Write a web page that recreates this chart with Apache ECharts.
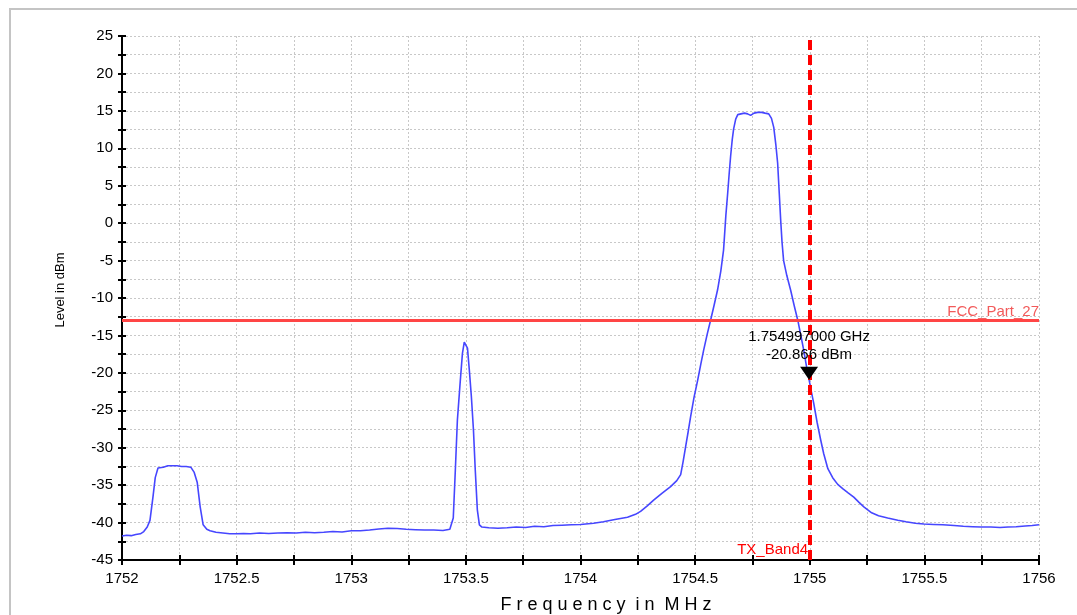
<!DOCTYPE html>
<html>
<head>
<meta charset="utf-8">
<script src="https://cdn.jsdelivr.net/npm/echarts@6/dist/echarts.min.js"></script>
<style>
html,body{margin:0;padding:0;background:#fff;}
#chart{width:1077px;height:615px;}
</style>
</head>
<body>
<div id="chart"></div>
<script>
// ---- data ----
const freqMHz = [
1752.000,1752.020,1752.040,1752.060,1752.080,1752.095,1752.110,1752.122,1752.135,1752.145,
1752.157,1752.180,1752.200,1752.220,1752.240,1752.260,1752.280,1752.300,1752.315,1752.328,
1752.341,1752.354,1752.370,1752.384,1752.410,1752.440,1752.470,1752.500,1752.530,1752.560,
1752.600,1752.640,1752.680,1752.720,1752.760,1752.800,1752.840,1752.880,1752.920,1752.960,
1753.000,1753.040,1753.080,1753.120,1753.160,1753.200,1753.240,1753.280,1753.320,1753.360,
1753.400,1753.430,1753.445,1753.454,1753.463,1753.476,1753.485,1753.493,1753.500,1753.507,
1753.515,1753.524,1753.533,1753.541,1753.550,1753.559,1753.570,1753.600,1753.640,1753.680,
1753.720,1753.760,1753.800,1753.840,1753.880,1753.920,1753.960,1754.000,1754.057,1754.100,
1754.150,1754.205,1754.240,1754.262,1754.290,1754.319,1754.355,1754.393,1754.420,1754.437,
1754.448,1754.459,1754.470,1754.480,1754.495,1754.511,1754.525,1754.537,1754.553,1754.568,
1754.584,1754.598,1754.612,1754.624,1754.634,1754.642,1754.649,1754.655,1754.662,1754.668,
1754.677,1754.686,1754.700,1754.715,1754.729,1754.742,1754.757,1754.773,1754.790,1754.805,
1754.821,1754.833,1754.843,1754.852,1754.860,1754.867,1754.873,1754.879,1754.886,1754.900,
1754.917,1754.932,1754.948,1754.961,1754.974,1754.985,1754.997,1755.007,1755.017,1755.032,
1755.048,1755.061,1755.079,1755.100,1755.122,1755.145,1755.166,1755.192,1755.215,1755.236,
1755.253,1755.270,1755.300,1755.340,1755.384,1755.420,1755.460,1755.498,1755.540,1755.580,
1755.629,1755.670,1755.710,1755.747,1755.790,1755.830,1755.865,1755.900,1755.940,1755.970,
1756.000
];
const levelDBm = [
-41.8,-41.7,-41.75,-41.6,-41.5,-41.2,-40.6,-39.7,-36.6,-34.0,
-32.7,-32.6,-32.4,-32.4,-32.4,-32.5,-32.5,-32.6,-33.3,-34.6,
-37.9,-40.3,-40.9,-41.1,-41.3,-41.4,-41.5,-41.5,-41.45,-41.5,
-41.4,-41.45,-41.4,-41.35,-41.4,-41.3,-41.35,-41.3,-41.2,-41.25,
-41.1,-41.1,-41.0,-40.85,-40.75,-40.8,-40.9,-40.95,-41.0,-41.0,
-41.05,-40.9,-39.4,-33.0,-26.3,-20.9,-17.4,-15.9,-16.1,-16.7,
-19.6,-23.2,-27.6,-33.0,-38.3,-40.3,-40.6,-40.7,-40.75,-40.7,
-40.6,-40.65,-40.5,-40.55,-40.4,-40.35,-40.3,-40.25,-40.1,-39.9,
-39.6,-39.3,-38.9,-38.5,-37.8,-37.0,-36.1,-35.2,-34.4,-33.6,
-31.8,-29.8,-27.8,-25.9,-23.3,-21.0,-18.8,-17.0,-14.8,-12.9,
-10.8,-8.9,-6.4,-3.6,1.0,4.0,6.8,9.0,11.2,12.6,
13.9,14.5,14.6,14.7,14.6,14.4,14.7,14.8,14.8,14.7,
14.6,14.0,12.8,10.5,8.0,4.0,0.5,-2.5,-5.0,-7.0,
-9.0,-11.0,-13.0,-15.0,-17.0,-19.0,-20.9,-22.5,-24.0,-26.6,
-29.0,-30.8,-32.8,-34.0,-34.9,-35.5,-36.0,-36.6,-37.3,-37.9,
-38.3,-38.7,-39.1,-39.4,-39.7,-39.9,-40.1,-40.2,-40.25,-40.3,
-40.4,-40.5,-40.55,-40.6,-40.6,-40.65,-40.6,-40.55,-40.45,-40.4,
-40.3
];
const limitLevel = -13;            // FCC_Part_27
const limitName = 'FCC_Part_27';
const bandEdge = 1754.997;         // TX_Band4
const bandName = 'TX_Band4';
const markerFreq = 1754.997;
const markerLevel = -20.866;
const markerText = '1.754997000 GHz\n-20.866 dBm';
const xMin = 1752, xMax = 1756, xStep = 0.25;
const yMin = -45, yMax = 25, yStep = 2.5;
const xTitle = 'F r e q u e n c y  i n  M H z';
const yTitle = 'Level in dBm';

// ---- chart ----
const FONT = "'Liberation Sans', Arial, sans-serif";
const chart = echarts.init(document.getElementById('chart'));
const traceData = freqMHz.map((f, i) => [f, levelDBm[i]]);

const xLabelFmt = v => {
  const r = Math.round(v * 100) / 100;
  return (Math.abs(r * 2 - Math.round(r * 2)) < 1e-6) ? String(r) : '';
};
const yLabelFmt = v => {
  const r = Math.round(v * 10) / 10;
  return (Math.abs(r / 5 - Math.round(r / 5)) < 1e-6) ? String(r) : '';
};

chart.setOption({
  backgroundColor: '#ffffff',
  animation: false,
  grid: { left: 122, right: 38, top: 36, bottom: 55, containLabel: false },
  graphic: [
    { type: 'rect', shape: { x: 10, y: 9, width: 1200, height: 800 },
      style: { fill: 'none', stroke: '#c4c4c4', lineWidth: 2 }, z: -1 },
    { type: 'text', x: 606, y: 605,
      style: { text: xTitle, font: '18px ' + FONT, fill: '#000', textAlign: 'center', textVerticalAlign: 'middle' } },
    { type: 'text', x: 60, y: 290, rotation: Math.PI / 2,
      style: { text: yTitle, font: '13px ' + FONT, fill: '#000', textAlign: 'center', textVerticalAlign: 'middle' } }
  ],
  xAxis: [
    { type: 'value', min: xMin, max: xMax, interval: xStep, position: 'bottom',
      axisLine: { show: true, onZero: false, lineStyle: { color: '#000', width: 2 } },
      axisTick: { show: true, length: 5, lineStyle: { color: '#000', width: 2 } },
      axisLabel: { formatter: xLabelFmt, color: '#000', fontSize: 15, fontFamily: FONT, margin: 11 },
      splitLine: { show: true, lineStyle: { color: '#c8c8c8', type: [2, 2], width: 1 } } },
    { type: 'value', min: xMin, max: xMax, interval: xStep, position: 'bottom',
      axisLine: { show: false, onZero: false },
      axisTick: { show: true, inside: true, length: 5, lineStyle: { color: '#000', width: 2 } },
      axisLabel: { show: false }, splitLine: { show: false } }
  ],
  yAxis: [
    { type: 'value', min: yMin, max: yMax, interval: yStep, position: 'left',
      axisLine: { show: true, onZero: false, lineStyle: { color: '#000', width: 2 } },
      axisTick: { show: true, length: 4, lineStyle: { color: '#000', width: 2 } },
      axisLabel: { formatter: yLabelFmt, color: '#000', fontSize: 15, fontFamily: FONT, margin: 9 },
      splitLine: { show: true, lineStyle: { color: '#c8c8c8', type: [2, 2], width: 1 } } },
    { type: 'value', min: yMin, max: yMax, interval: yStep, position: 'left',
      axisLine: { show: false, onZero: false },
      axisTick: { show: true, inside: true, length: 4, lineStyle: { color: '#000', width: 2 } },
      axisLabel: { show: false }, splitLine: { show: false } }
  ],
  series: [
    {
      type: 'line', name: 'trace', data: traceData, showSymbol: false, symbol: 'none',
      xAxisIndex: 0, yAxisIndex: 0,
      lineStyle: { color: '#4646ff', width: 1.6 },
      z: 3,
      markLine: {
        silent: true, symbol: ['none', 'none'],
        data: [
          { yAxis: limitLevel,
            lineStyle: { color: '#ff4545', width: 3, type: 'solid' },
            label: { show: true, position: 'insideEndTop', formatter: limitName, color: '#f25a5a',
                     fontSize: 15, fontFamily: FONT, distance: [0, 1] } },
          { xAxis: bandEdge,
            lineStyle: { color: '#ff0000', width: 4, type: [10, 5] },
            label: { show: false } }
        ],
        z: 4
      },
      markPoint: {
        silent: true,
        data: [
          { coord: [markerFreq, markerLevel], symbol: 'path://M0,0 L18,0 L9,13 Z', symbolSize: [18, 13],
            symbolOffset: [0, -6], itemStyle: { color: '#000' },
            label: { show: true, position: 'top', distance: 3, formatter: markerText, color: '#000',
                     fontSize: 15, fontFamily: FONT, lineHeight: 18, align: 'center' } },
          { coord: [bandEdge, yMin], symbol: 'circle', symbolSize: 0, itemStyle: { color: 'rgba(0,0,0,0)' },
            label: { show: true, position: 'left', distance: 1, offset: [0, -10], formatter: bandName,
                     color: '#ff0000', fontSize: 15, fontFamily: FONT } }
        ],
        z: 5
      }
    }
  ]
});
</script>
</body>
</html>
